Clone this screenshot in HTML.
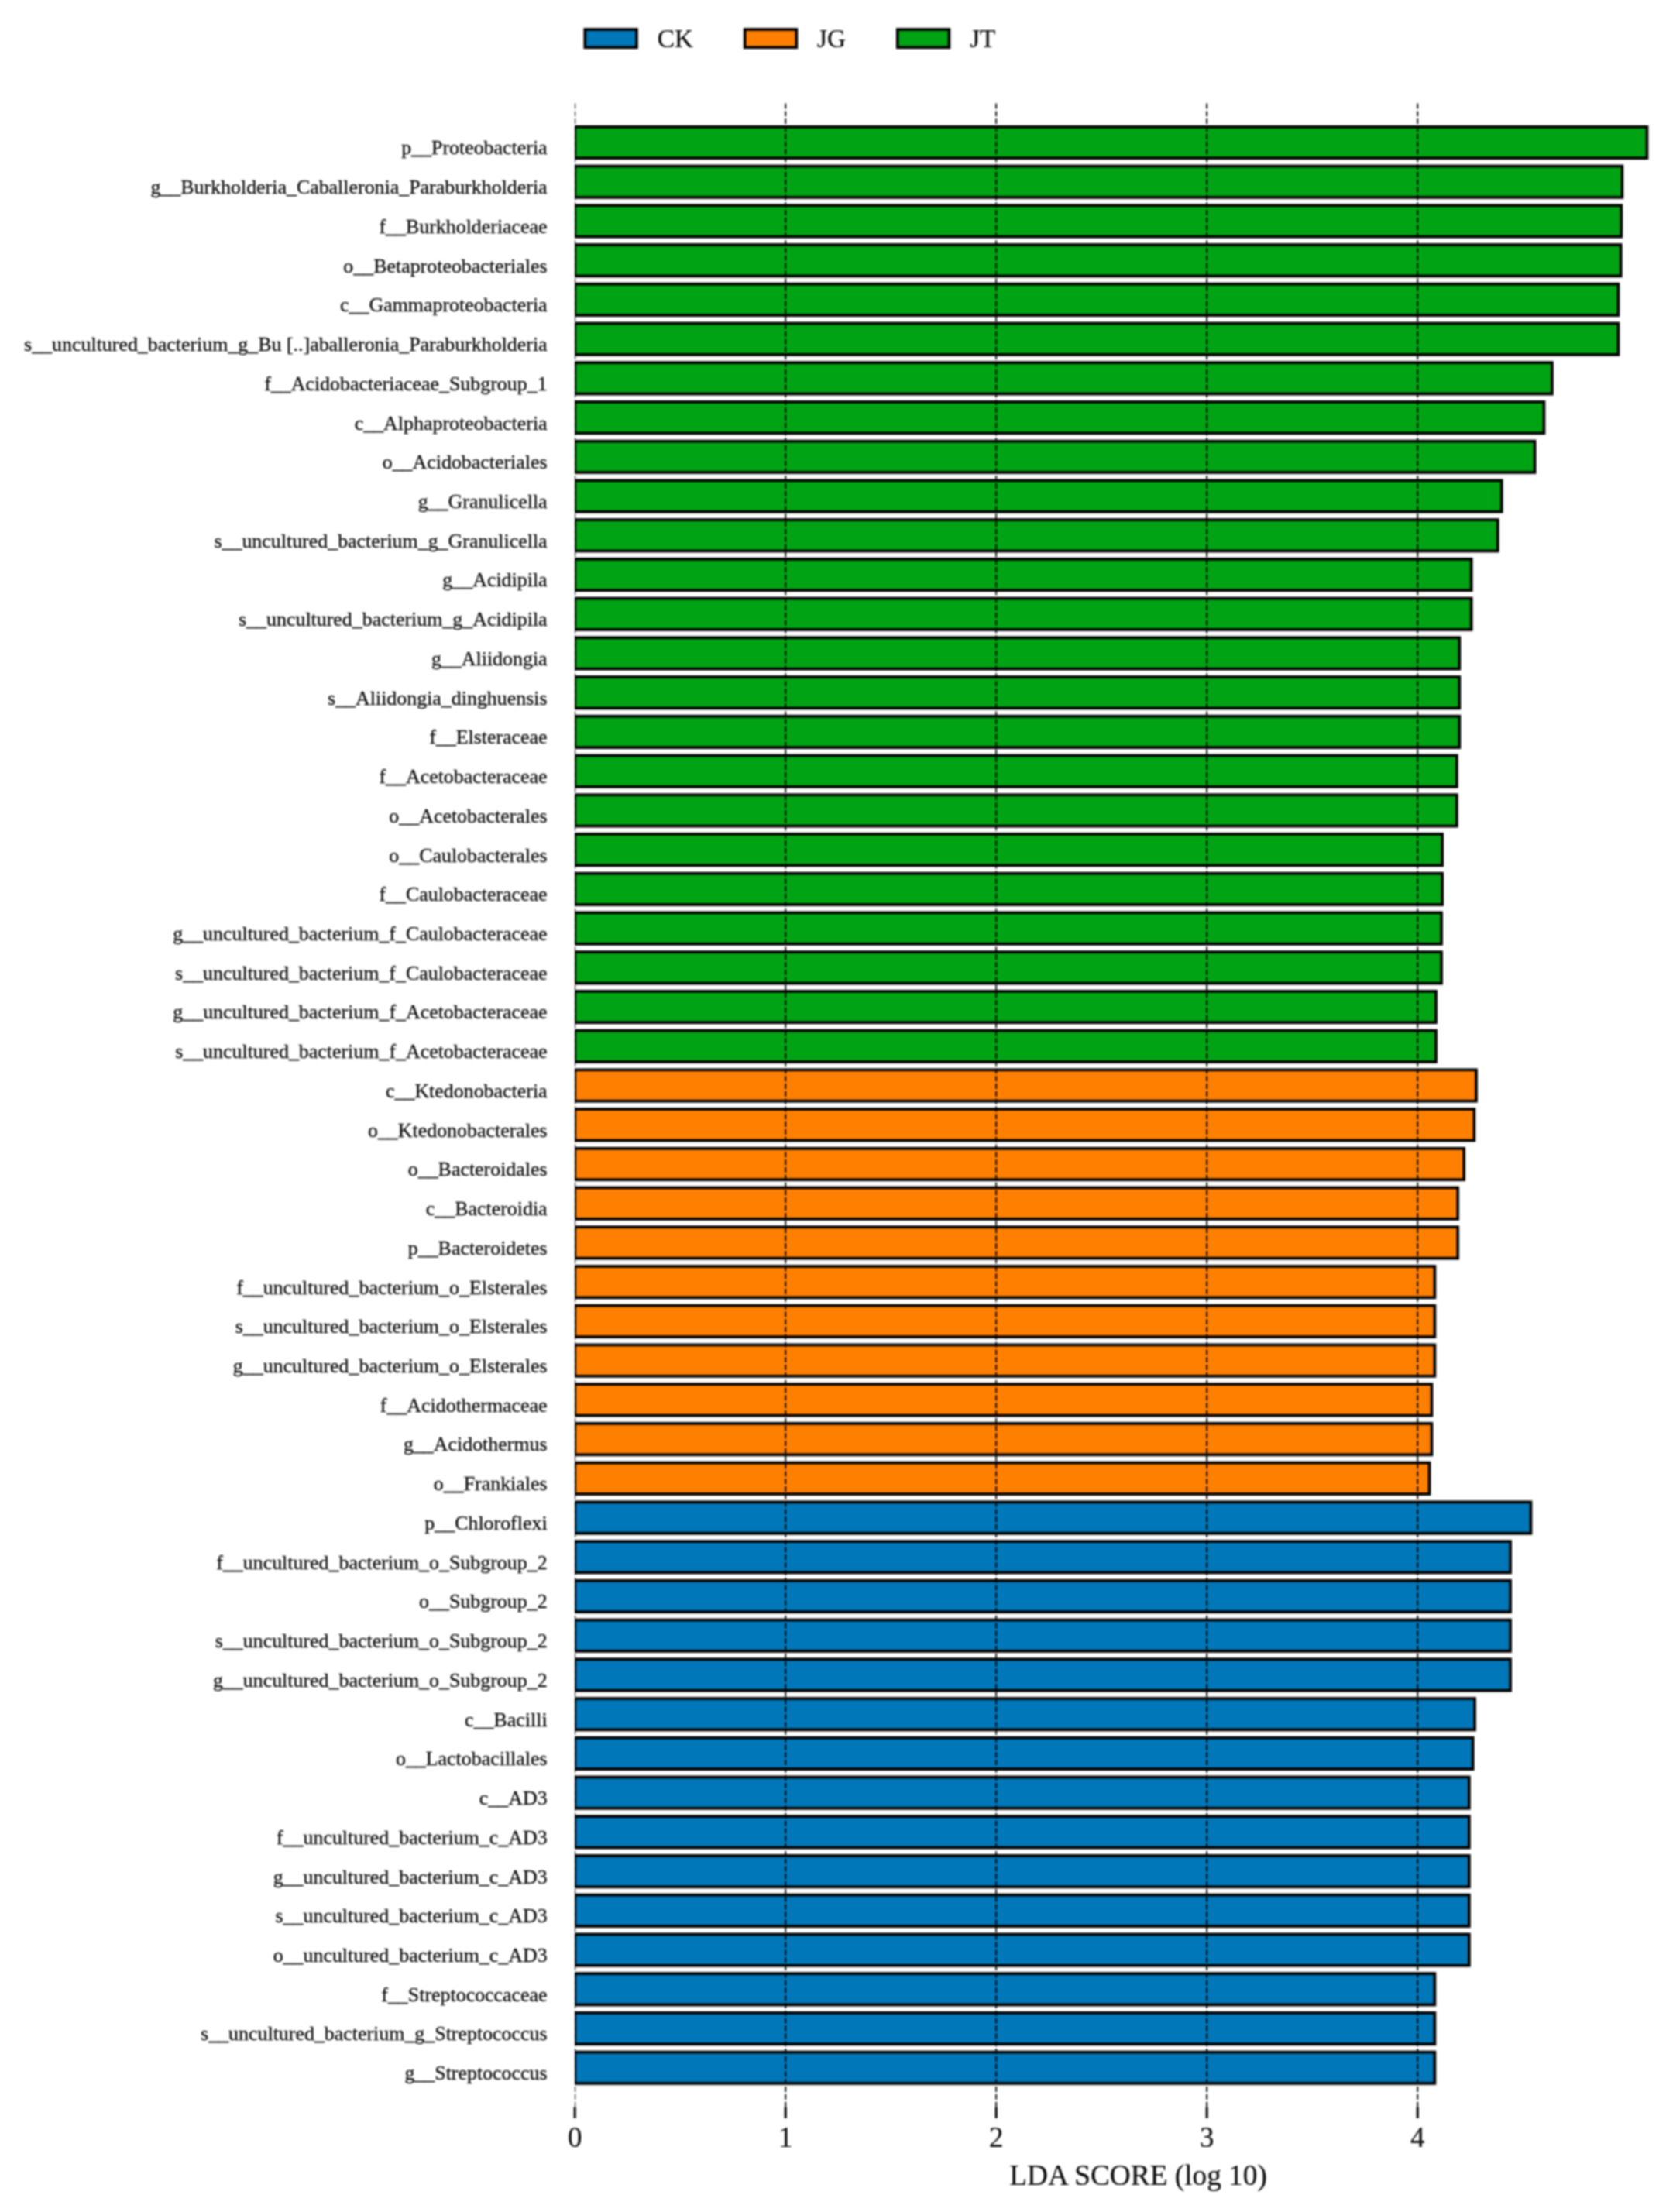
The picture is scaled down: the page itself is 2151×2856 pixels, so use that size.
<!DOCTYPE html>
<html lang="en">
<head>
<meta charset="utf-8">
<title>LDA SCORE (log 10)</title>
<style>
html,body{margin:0;padding:0;background:#ffffff;}
body{width:2151px;height:2856px;overflow:hidden;}
svg{display:block;filter:blur(0.8px);}
text{font-family:"Liberation Serif", serif;fill:#0a0a0a;stroke:#0a0a0a;stroke-width:0.3px;}
.lbl{font-size:25.92px;text-anchor:end;}
.tick{font-size:37.0px;text-anchor:middle;stroke-width:0.2px;}
.title{font-size:37.3px;text-anchor:middle;stroke-width:0.2px;}
.leg{font-size:33.3px;text-anchor:start;stroke-width:0.2px;}
.bar{stroke:#000000;stroke-width:3.7;}
.grid{stroke:#000000;stroke-width:1.85;stroke-dasharray:6.85 2.96;fill:none;}
.tk{stroke:#000000;stroke-width:3;}
</style>
</head>
<body>
<svg width="2151" height="2856" viewBox="0 0 2151 2856">
<rect x="0" y="0" width="2151" height="2856" fill="#ffffff"/>
<defs><clipPath id="ax"><rect x="742.2" y="132.27" width="1418.80" height="2589.23"/></clipPath></defs>

<g id="legend">
<rect class="bar" x="755.30" y="38.00" width="66.7" height="23.3" fill="#0077b8"/>
<text class="leg" x="848.70" y="60.5">CK</text>
<rect class="bar" x="961.66" y="38.00" width="66.7" height="23.3" fill="#ff7f00"/>
<text class="leg" x="1055.06" y="60.5">JG</text>
<rect class="bar" x="1158.77" y="38.00" width="66.7" height="23.3" fill="#00a313"/>
<text class="leg" x="1252.17" y="60.5">JT</text>
</g>
<g id="bars" clip-path="url(#ax)">
<rect class="bar" x="742.20" y="163.78" width="1384.30" height="40.45" fill="#00a313"/>
<rect class="bar" x="742.20" y="214.50" width="1352.20" height="40.45" fill="#00a313"/>
<rect class="bar" x="742.20" y="265.23" width="1351.10" height="40.45" fill="#00a313"/>
<rect class="bar" x="742.20" y="315.96" width="1350.50" height="40.45" fill="#00a313"/>
<rect class="bar" x="742.20" y="366.69" width="1347.20" height="40.45" fill="#00a313"/>
<rect class="bar" x="742.20" y="417.42" width="1347.20" height="40.45" fill="#00a313"/>
<rect class="bar" x="742.20" y="468.15" width="1261.70" height="40.45" fill="#00a313"/>
<rect class="bar" x="742.20" y="518.88" width="1251.30" height="40.45" fill="#00a313"/>
<rect class="bar" x="742.20" y="569.61" width="1239.40" height="40.45" fill="#00a313"/>
<rect class="bar" x="742.20" y="620.34" width="1196.60" height="40.45" fill="#00a313"/>
<rect class="bar" x="742.20" y="671.07" width="1191.60" height="40.45" fill="#00a313"/>
<rect class="bar" x="742.20" y="721.80" width="1157.50" height="40.45" fill="#00a313"/>
<rect class="bar" x="742.20" y="772.53" width="1157.50" height="40.45" fill="#00a313"/>
<rect class="bar" x="742.20" y="823.26" width="1142.10" height="40.45" fill="#00a313"/>
<rect class="bar" x="742.20" y="873.99" width="1142.10" height="40.45" fill="#00a313"/>
<rect class="bar" x="742.20" y="924.72" width="1142.10" height="40.45" fill="#00a313"/>
<rect class="bar" x="742.20" y="975.45" width="1138.70" height="40.45" fill="#00a313"/>
<rect class="bar" x="742.20" y="1026.18" width="1138.70" height="40.45" fill="#00a313"/>
<rect class="bar" x="742.20" y="1076.91" width="1120.00" height="40.45" fill="#00a313"/>
<rect class="bar" x="742.20" y="1127.64" width="1120.00" height="40.45" fill="#00a313"/>
<rect class="bar" x="742.20" y="1178.38" width="1118.90" height="40.45" fill="#00a313"/>
<rect class="bar" x="742.20" y="1229.11" width="1118.90" height="40.45" fill="#00a313"/>
<rect class="bar" x="742.20" y="1279.84" width="1111.80" height="40.45" fill="#00a313"/>
<rect class="bar" x="742.20" y="1330.57" width="1111.80" height="40.45" fill="#00a313"/>
<rect class="bar" x="742.20" y="1381.30" width="1163.80" height="40.45" fill="#ff7f00"/>
<rect class="bar" x="742.20" y="1432.03" width="1161.20" height="40.45" fill="#ff7f00"/>
<rect class="bar" x="742.20" y="1482.76" width="1148.00" height="40.45" fill="#ff7f00"/>
<rect class="bar" x="742.20" y="1533.48" width="1140.00" height="40.45" fill="#ff7f00"/>
<rect class="bar" x="742.20" y="1584.21" width="1140.00" height="40.45" fill="#ff7f00"/>
<rect class="bar" x="742.20" y="1634.94" width="1110.20" height="40.45" fill="#ff7f00"/>
<rect class="bar" x="742.20" y="1685.67" width="1110.20" height="40.45" fill="#ff7f00"/>
<rect class="bar" x="742.20" y="1736.40" width="1110.20" height="40.45" fill="#ff7f00"/>
<rect class="bar" x="742.20" y="1787.13" width="1106.30" height="40.45" fill="#ff7f00"/>
<rect class="bar" x="742.20" y="1837.87" width="1106.30" height="40.45" fill="#ff7f00"/>
<rect class="bar" x="742.20" y="1888.60" width="1103.30" height="40.45" fill="#ff7f00"/>
<rect class="bar" x="742.20" y="1939.33" width="1234.30" height="40.45" fill="#0077b8"/>
<rect class="bar" x="742.20" y="1990.06" width="1207.90" height="40.45" fill="#0077b8"/>
<rect class="bar" x="742.20" y="2040.79" width="1207.90" height="40.45" fill="#0077b8"/>
<rect class="bar" x="742.20" y="2091.51" width="1207.90" height="40.45" fill="#0077b8"/>
<rect class="bar" x="742.20" y="2142.24" width="1207.90" height="40.45" fill="#0077b8"/>
<rect class="bar" x="742.20" y="2192.97" width="1161.90" height="40.45" fill="#0077b8"/>
<rect class="bar" x="742.20" y="2243.70" width="1159.50" height="40.45" fill="#0077b8"/>
<rect class="bar" x="742.20" y="2294.43" width="1154.70" height="40.45" fill="#0077b8"/>
<rect class="bar" x="742.20" y="2345.16" width="1154.70" height="40.45" fill="#0077b8"/>
<rect class="bar" x="742.20" y="2395.89" width="1154.70" height="40.45" fill="#0077b8"/>
<rect class="bar" x="742.20" y="2446.62" width="1154.70" height="40.45" fill="#0077b8"/>
<rect class="bar" x="742.20" y="2497.36" width="1154.70" height="40.45" fill="#0077b8"/>
<rect class="bar" x="742.20" y="2548.09" width="1110.20" height="40.45" fill="#0077b8"/>
<rect class="bar" x="742.20" y="2598.82" width="1110.20" height="40.45" fill="#0077b8"/>
<rect class="bar" x="742.20" y="2649.55" width="1110.20" height="40.45" fill="#0077b8"/>
</g>
<g id="grid" clip-path="url(#ax)">
<line class="grid" x1="742.20" y1="2720.50" x2="742.20" y2="133.27"/>
<line class="grid" x1="1014.20" y1="2720.50" x2="1014.20" y2="133.27"/>
<line class="grid" x1="1286.20" y1="2720.50" x2="1286.20" y2="133.27"/>
<line class="grid" x1="1558.20" y1="2720.50" x2="1558.20" y2="133.27"/>
<line class="grid" x1="1830.20" y1="2720.50" x2="1830.20" y2="133.27"/>
</g>
<g id="ticks">
<line class="tk" x1="742.20" y1="2720.50" x2="742.20" y2="2734.80"/>
<text class="tick" x="742.20" y="2772">0</text>
<line class="tk" x1="1014.20" y1="2720.50" x2="1014.20" y2="2734.80"/>
<text class="tick" x="1014.20" y="2772">1</text>
<line class="tk" x1="1286.20" y1="2720.50" x2="1286.20" y2="2734.80"/>
<text class="tick" x="1286.20" y="2772">2</text>
<line class="tk" x1="1558.20" y1="2720.50" x2="1558.20" y2="2734.80"/>
<text class="tick" x="1558.20" y="2772">3</text>
<line class="tk" x1="1830.20" y1="2720.50" x2="1830.20" y2="2734.80"/>
<text class="tick" x="1830.20" y="2772">4</text>
</g>
<g id="labels">
<text class="lbl" x="706.6" y="199.40">p__Proteobacteria</text>
<text class="lbl" x="706.6" y="250.13">g__Burkholderia_Caballeronia_Paraburkholderia</text>
<text class="lbl" x="706.6" y="300.86">f__Burkholderiaceae</text>
<text class="lbl" x="706.6" y="351.59">o__Betaproteobacteriales</text>
<text class="lbl" x="706.6" y="402.32">c__Gammaproteobacteria</text>
<text class="lbl" x="706.6" y="453.05">s__uncultured_bacterium_g_Bu [..]aballeronia_Paraburkholderia</text>
<text class="lbl" x="706.6" y="503.78">f__Acidobacteriaceae_Subgroup_1</text>
<text class="lbl" x="706.6" y="554.51">c__Alphaproteobacteria</text>
<text class="lbl" x="706.6" y="605.24">o__Acidobacteriales</text>
<text class="lbl" x="706.6" y="655.97">g__Granulicella</text>
<text class="lbl" x="706.6" y="706.70">s__uncultured_bacterium_g_Granulicella</text>
<text class="lbl" x="706.6" y="757.43">g__Acidipila</text>
<text class="lbl" x="706.6" y="808.16">s__uncultured_bacterium_g_Acidipila</text>
<text class="lbl" x="706.6" y="858.89">g__Aliidongia</text>
<text class="lbl" x="706.6" y="909.62">s__Aliidongia_dinghuensis</text>
<text class="lbl" x="706.6" y="960.35">f__Elsteraceae</text>
<text class="lbl" x="706.6" y="1011.08">f__Acetobacteraceae</text>
<text class="lbl" x="706.6" y="1061.81">o__Acetobacterales</text>
<text class="lbl" x="706.6" y="1112.54">o__Caulobacterales</text>
<text class="lbl" x="706.6" y="1163.27">f__Caulobacteraceae</text>
<text class="lbl" x="706.6" y="1214.00">g__uncultured_bacterium_f_Caulobacteraceae</text>
<text class="lbl" x="706.6" y="1264.73">s__uncultured_bacterium_f_Caulobacteraceae</text>
<text class="lbl" x="706.6" y="1315.46">g__uncultured_bacterium_f_Acetobacteraceae</text>
<text class="lbl" x="706.6" y="1366.19">s__uncultured_bacterium_f_Acetobacteraceae</text>
<text class="lbl" x="706.6" y="1416.92">c__Ktedonobacteria</text>
<text class="lbl" x="706.6" y="1467.65">o__Ktedonobacterales</text>
<text class="lbl" x="706.6" y="1518.38">o__Bacteroidales</text>
<text class="lbl" x="706.6" y="1569.11">c__Bacteroidia</text>
<text class="lbl" x="706.6" y="1619.84">p__Bacteroidetes</text>
<text class="lbl" x="706.6" y="1670.57">f__uncultured_bacterium_o_Elsterales</text>
<text class="lbl" x="706.6" y="1721.30">s__uncultured_bacterium_o_Elsterales</text>
<text class="lbl" x="706.6" y="1772.03">g__uncultured_bacterium_o_Elsterales</text>
<text class="lbl" x="706.6" y="1822.76">f__Acidothermaceae</text>
<text class="lbl" x="706.6" y="1873.49">g__Acidothermus</text>
<text class="lbl" x="706.6" y="1924.22">o__Frankiales</text>
<text class="lbl" x="706.6" y="1974.95">p__Chloroflexi</text>
<text class="lbl" x="706.6" y="2025.68">f__uncultured_bacterium_o_Subgroup_2</text>
<text class="lbl" x="706.6" y="2076.41">o__Subgroup_2</text>
<text class="lbl" x="706.6" y="2127.14">s__uncultured_bacterium_o_Subgroup_2</text>
<text class="lbl" x="706.6" y="2177.87">g__uncultured_bacterium_o_Subgroup_2</text>
<text class="lbl" x="706.6" y="2228.60">c__Bacilli</text>
<text class="lbl" x="706.6" y="2279.33">o__Lactobacillales</text>
<text class="lbl" x="706.6" y="2330.06">c__AD3</text>
<text class="lbl" x="706.6" y="2380.79">f__uncultured_bacterium_c_AD3</text>
<text class="lbl" x="706.6" y="2431.52">g__uncultured_bacterium_c_AD3</text>
<text class="lbl" x="706.6" y="2482.25">s__uncultured_bacterium_c_AD3</text>
<text class="lbl" x="706.6" y="2532.98">o__uncultured_bacterium_c_AD3</text>
<text class="lbl" x="706.6" y="2583.71">f__Streptococcaceae</text>
<text class="lbl" x="706.6" y="2634.44">s__uncultured_bacterium_g_Streptococcus</text>
<text class="lbl" x="706.6" y="2685.17">g__Streptococcus</text>
</g>
<text class="title" x="1469.6" y="2821">LDA SCORE (log 10)</text>
</svg>
</body>
</html>
